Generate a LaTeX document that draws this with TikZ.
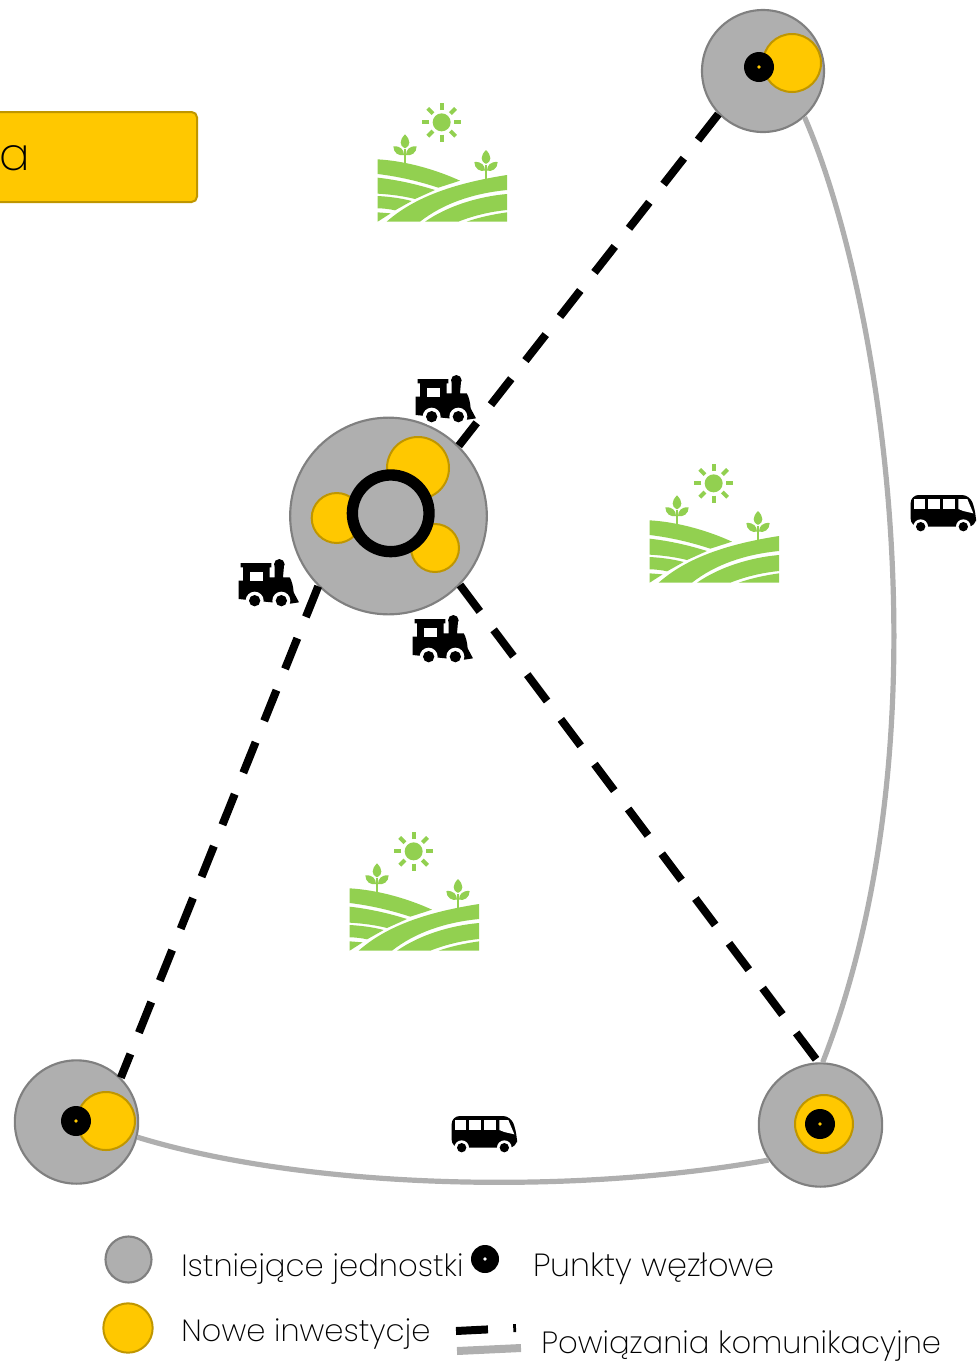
\documentclass[tikz,border=0pt]{standalone}
\usepackage{fontspec}
\setmainfont{Poppins ExtraLight}
\definecolor{gfill}{HTML}{AFAFAF}
\definecolor{gedge}{HTML}{808080}
\definecolor{yfill}{HTML}{FFC800}
\definecolor{yedge}{HTML}{BF9600}
\definecolor{leaf}{HTML}{92D050}
\newcommand{\plantshape}[2]{%
  \begin{scope}[shift={(#1,#2)}]
    \fill[leaf] (-4,0) rectangle (4,42);
    \fill[leaf] (0,-44) .. controls (-18,-26) and (-16,-10) .. (-2,-3) -- (2,-3) .. controls (16,-10) and (18,-26) .. (0,-44) -- cycle;
    \fill[leaf] (-35,-8) .. controls (-35,12) and (-18,22) .. (-3,18) .. controls (-3,2) and (-14,-10) .. (-35,-8) -- cycle;
    \fill[leaf] (35,-8) .. controls (35,12) and (18,22) .. (3,18) .. controls (3,2) and (14,-10) .. (35,-8) -- cycle;
  \end{scope}}
\tikzset{
  x=0.75pt,y=-0.75pt,
  unit/.style={circle,draw=gedge,fill=gfill,line width=1.6pt,inner sep=0pt},
  newinv/.style={circle,draw=yedge,fill=yfill,line width=1.5pt,inner sep=0pt},
  rail/.style={line width=6pt,draw=black,dash pattern=on 24.75pt off 17.25pt},
  road/.style={line width=3.9pt,draw=gfill},
  lab/.style={anchor=base west,inner sep=0pt,font=\fontsize{23}{27}\selectfont},
  field/.pic={
    \begin{scope}[x=0.25pt,y=-0.25pt]
      \fill[leaf] (215,82) circle (27);
      \foreach \a in {0,45,...,315}{
        \draw[leaf,line width=3pt] (215,82)++(\a:37) -- ++(\a:22);
      }
      \fill[leaf] (23,193) .. controls (110,198) and (200,225) .. (270,257) -- (205,278) .. controls (150,260) and (90,245) .. (23,237) -- cycle;
      \fill[leaf] (23,248) .. controls (85,255) and (140,268) .. (195,285) -- (135,312) .. controls (100,303) and (60,298) .. (23,296) -- cycle;
      \fill[leaf] (23,303) .. controls (60,305) and (95,310) .. (125,318) -- (75,346) .. controls (58,342) and (40,340) .. (23,340) -- cycle;
      \fill[leaf] (23,352) -- (62,355) -- (23,380) -- cycle;
      \fill[leaf] (50,380) .. controls (140,300) and (270,262) .. (411,240) -- (411,285) .. controls (310,295) and (220,325) .. (150,380) -- cycle;
      \fill[leaf] (165,380) .. controls (230,335) and (320,305) .. (411,297) -- (411,345) .. controls (360,350) and (310,362) .. (265,380) -- cycle;
      \fill[leaf] (290,380) .. controls (330,366) and (370,358) .. (411,352) -- (411,380) -- cycle;
      \plantshape{105}{162}
      \plantshape{348}{209}
    \end{scope}},
  train/.pic={
    \begin{scope}[x=0.25pt,y=-0.25pt]
      \fill[black] (38,42) -- (130,42) -- (130,55) -- (125,55) -- (125,85) -- (140,85) -- (140,50) -- (168,50) -- (165,85) -- (185,85)
        .. controls (192,95) and (196,115) .. (197,130) -- (213,160) -- (180,165) -- (32,150) -- (32,95) -- (45,95) -- (45,55) -- (38,55) -- cycle;
      \fill[black] (154,46) circle (16);
      \fill[white] (65,68) rectangle (105,95);
      \fill[white] (80,155) circle (27);
      \fill[white] (160,155) circle (27);
      \fill[black] (80,155) circle (17);
      \fill[black] (160,155) circle (17);
    \end{scope}},
  busicon/.pic={
    \begin{scope}[x=0.25pt,y=-0.25pt]
      \fill[black,rounded corners=6pt] (32,30) -- (210,30) -- (228,85) -- (228,125) -- (32,125) -- cycle;
      \fill[white] (41,42) rectangle (75,72);
      \fill[white] (85,42) rectangle (120,72);
      \fill[white] (130,42) rectangle (165,72);
      \fill[white] (175,42) -- (202,42) -- (220,85) -- (190,78) -- (175,72) -- cycle;
      \fill[white] (62,125) circle (22);
      \fill[white] (190,125) circle (22);
      \fill[black] (62,125) circle (14);
      \fill[black] (190,125) circle (14);
    \end{scope}}
}
\begin{document}
\begin{tikzpicture}
\useasboundingbox (0,0) rectangle (976,1361);
% box
\node[draw=yedge,fill=yfill,line width=1.5pt,rounded corners=4pt,minimum width=163.5pt,minimum height=67.5pt,anchor=east,inner sep=0pt] (box) at (198,157) {};
\node[anchor=base west,inner sep=0pt,font=\fontsize{34}{38}\selectfont] (boxa) at (-1,170) {a};
% fields
\pic at (370,95) {field};
\pic at (642,456) {field};
\pic at (342,824) {field};
% units
\node[unit,minimum size=91.5pt] (top) at (763,71) {};
\node[newinv,minimum size=43.5pt] (topy) at (792,63) {};
\node[circle,fill=black,minimum size=22.5pt,inner sep=0pt] (toph) at (759,67) {};
\fill[yfill] (toph.center) circle (1.8);
\node[unit,minimum size=147.5pt] (mid) at (388.5,516) {};
\node[newinv,minimum size=46.5pt] (midy1) at (418,468) {};
\node[newinv,minimum size=37.5pt] (midy2) at (336.7,518) {};
\node[newinv,minimum size=36pt] (midy3) at (435,548) {};
\node[circle,draw=black,fill=gfill,line width=8.5pt,minimum size=57.5pt,inner sep=0pt] (midh) at (390.7,513.3) {};
\node[unit,minimum size=92.5pt] (bl) at (76.5,1122) {};
\node[newinv,minimum size=43.5pt] (bly) at (106,1121) {};
\node[circle,fill=black,minimum size=22.5pt,inner sep=0pt] (blh) at (76,1121) {};
\fill[yfill] (blh.center) circle (1.8);
\node[unit,minimum size=92.5pt] (br) at (820.5,1125) {};
\node[newinv,minimum size=43.5pt] (bry) at (824,1124) {};
\node[circle,fill=black,minimum size=22.5pt,inner sep=0pt] (brh) at (820,1124) {};
\fill[yfill] (brh.center) circle (1.8);
% connectors
\draw[rail] (top.224) -- (mid.45);
\draw[rail] (mid.225) -- (bl.45);
\draw[rail] (mid.-44) -- (br.92);
\draw[road] (top.-48) .. controls (880,290) and (952,730) .. (br.88);
\draw[road] (bl.-14) .. controls (300,1187) and (560,1197) .. (br.214);
% transport icons
\pic at (405,365) {train};
\pic at (228,549) {train};
\pic at (402,605) {train};
\pic at (900,485) {busicon};
\pic at (441,1106) {busicon};
% legend
\node[unit,minimum size=34.5pt] (lg1) at (128.5,1259.5) {};
\node[newinv,minimum size=37pt] (lg2) at (128,1328) {};
\node[circle,fill=black,minimum size=21pt,inner sep=0pt] (lg3) at (485,1259) {};
\fill[white] (lg3.center) circle (1.8);
\node[lab] (t1) at (181,1276) {Istniejące jednostki};
\node[lab] (t2) at (181,1341) {Nowe inwestycje};
\node[lab,font=\fontsize{24}{28}\selectfont] (t3) at (533,1276) {Punkty węzłowe};
\node[lab] (t4) at (541,1353) {Powiązania komunikacyjne};
\coordinate (s1) at (456,1331); \coordinate (s2) at (516,1328);
\draw[line width=6pt,dash pattern=on 24pt off 19pt] (s1) -- (s2);
\coordinate (s3) at (457,1351); \coordinate (s4) at (521,1348);
\draw[line width=6pt,draw=gfill] (s3) -- (s4);
\end{tikzpicture}
\end{document}
